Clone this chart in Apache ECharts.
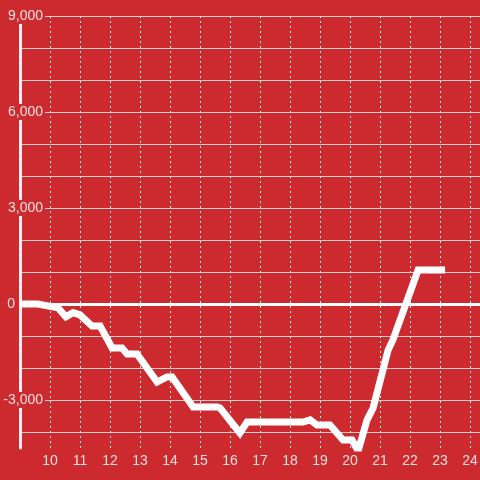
<!DOCTYPE html>
<html>
<head>
<meta charset="utf-8">
<script src="https://cdn.jsdelivr.net/npm/echarts@6/dist/echarts.min.js"></script>
<style>
  html, body { margin: 0; padding: 0; background: #cc2a2e; }
  #chart { width: 480px; height: 480px; }
</style>
</head>
<body>
<div id="chart"></div>
<script>
// hour of day (x) and running total (y)
var hours = [9.0, 9.6, 10.27, 10.53, 10.77, 11.0, 11.4, 11.67, 12.07, 12.4, 12.57, 12.9,
             13.57, 13.9, 14.07, 14.77, 15.57, 15.67, 16.33, 16.57, 18.43, 18.67, 18.9,
             19.33, 19.77, 20.07, 20.27, 20.57, 20.77, 21.27, 21.43, 22.27, 23.17]
var totals = [0, 0, -120, -400, -270, -340, -690, -690, -1375, -1375, -1560, -1560,
              -2440, -2280, -2280, -3220, -3220, -3250, -4030, -3690, -3690, -3620, -3780,
              -3780, -4250, -4250, -4590, -3620, -3250, -1440, -1125, 1060, 1060]
var yLabelStep = 3000

var points = hours.map(function (h, i) { return [h, totals[i]] })

var red = '#cc2a2e'
var textColor = '#f5e0e0'
var font = 'Liberation Sans, Arial, sans-serif'

var chart = echarts.init(document.getElementById('chart'))
chart.setOption({
    backgroundColor: red,
    animation: false,
    grid: {
        left: 20,
        width: 480,
        top: 16,
        bottom: 32,
        containLabel: false,
        outerBoundsMode: 'none'
    },
    xAxis: {
        type: 'value',
        min: 9,
        max: 25,
        interval: 1,
        axisLine: { show: false },
        axisTick: { show: false },
        axisLabel: {
            color: textColor,
            fontSize: 14,
            fontFamily: font,
            margin: 6,
            formatter: function (v) {
                return (v > 9 && v < 25) ? String(v) : ''
            }
        },
        splitLine: {
            show: true,
            lineStyle: { color: '#e6e6e6', width: 1, type: [2, 3] }
        }
    },
    yAxis: {
        type: 'value',
        min: -4500,
        max: 9000,
        interval: 500,
        axisLine: {
            show: true,
            lineStyle: { color: '#f2f2f2', width: 3 }
        },
        axisTick: { show: false },
        axisLabel: {
            margin: -25,
            formatter: function (v) {
                if (v % yLabelStep !== 0) return ''
                if (v === 0) return '{zero|0}'
                return '{n|' + v.toLocaleString('en-US') + '}'
            },
            rich: {
                n: {
                    color: textColor,
                    fontSize: 14,
                    fontFamily: font,
                    backgroundColor: red,
                    padding: [1, 2]
                },
                zero: {
                    color: textColor,
                    fontSize: 14,
                    fontFamily: font,
                    padding: [1, 30, 1, 0]
                }
            }
        },
        splitLine: {
            show: true,
            lineStyle: { color: ['rgba(0,0,0,0)', '#cfcfcf'], width: 1 }
        }
    },
    series: [
        {
            type: 'line',
            data: points,
            symbol: 'none',
            lineStyle: { color: '#ffffff', width: 7, join: 'miter' },
            markLine: {
                silent: true,
                symbol: 'none',
                label: { show: false },
                lineStyle: { color: '#ffffff', width: 3, type: 'solid' },
                data: [{ yAxis: 0 }]
            }
        }
    ]
})
</script>
</body>
</html>
